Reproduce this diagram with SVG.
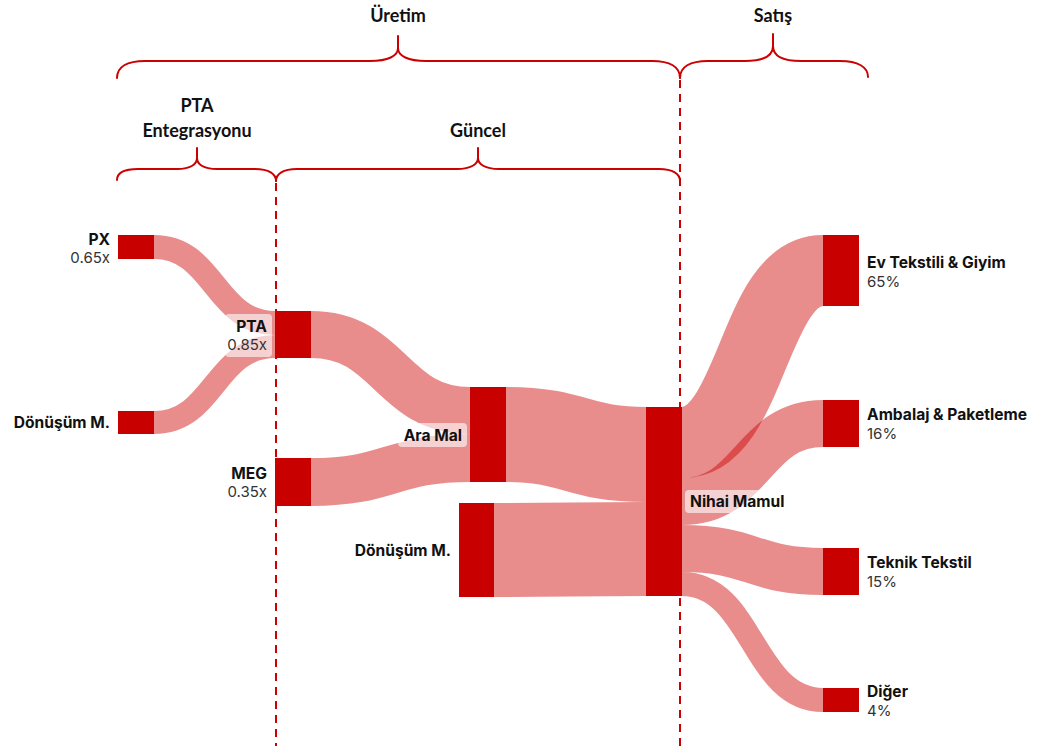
<svg xmlns="http://www.w3.org/2000/svg" width="1050" height="746" viewBox="0 0 1050 746">
<style>
.title{font-family:Lato,"Liberation Sans",sans-serif;font-weight:700;font-size:18px;fill:#111;text-anchor:middle}
.brace{fill:none;stroke:#cc0000;stroke-width:2;stroke-linecap:round;stroke-linejoin:round}
.guide{fill:none;stroke:#cc0000;stroke-width:2;stroke-dasharray:8 6}
.link{fill:none;stroke:#cc0000;stroke-opacity:0.45}
.node{fill:#c80000}
.lbl{font-family:Inter,"Liberation Sans",sans-serif;font-size:15.6px;font-weight:700;fill:#111}
.num{font-family:Inter,"Liberation Sans",sans-serif;font-size:15px;font-weight:400;fill:#333}
.bg{fill:#ffffff;fill-opacity:0.6}
.r{text-anchor:end}
</style>
<g id="headers">
<text class="title" x="398" y="22">Üretim</text>
<text class="title" x="773" y="22">Satış</text>
<text class="title" x="197" y="112">PTA</text>
<text class="title" x="197" y="137">Entegrasyonu</text>
<text class="title" x="478" y="137">Güncel</text>
<path class="brace" d="M117,78 C117,67 127,61 145,61 L370,61 C388,61 398,56 398,48 L398,36 M398,48 C398,56 408,61 426,61 L652,61 C670,61 680,67 680,78"/>
<path class="brace" d="M680,78 C680,67 690,61 708,61 L745,61 C763,61 773,56 773,46 L773,34 M773,46 C773,56 783,61 801,61 L840,61 C858,61 868,67 868,77"/>
<path class="brace" d="M117,180 C117,173 124,169 138,169 L177,169 C191,169 197,164 197,158 L197,148 M197,158 C197,164 203,169 217,169 L255,169 C269,169 276,174 276,181"/>
<path class="brace" d="M276,181 C276,174 283,169 297,169 L457,169 C471,169 478,164 478,158 L478,148 M478,158 C478,164 485,169 499,169 L659,169 C673,169 680,174 680,181"/>
</g>
<g id="connectors">
<path class="link" stroke-width="24" d="M154,247 C214.5,247 214.5,323 275,323"/>
<path class="link" stroke-width="23" d="M154,422.5 C214.5,422.5 214.5,346.5 275,346.5"/>
<path class="link" stroke-width="47" d="M311,334.5 C390.5,334.5 390.5,410.5 470,410.5"/>
<path class="link" stroke-width="48" d="M311,482 C390.5,482 390.5,458 470,458"/>
<path class="link" stroke-width="95" d="M506,434.5 C576,434.5 576,454.5 646,454.5"/>
<path class="link" stroke-width="94" d="M494,550 C570,550 570,549 646,549"/>
<path class="link" stroke-width="71" d="M682,442.5 C752.5,442.5 752.5,270.5 823,270.5"/>
<path class="link" stroke-width="47" d="M682,501.5 C752.5,501.5 752.5,423.5 823,423.5"/>
<path class="link" stroke-width="47" d="M682,548.5 C752.5,548.5 752.5,571.5 823,571.5"/>
<path class="link" stroke-width="24" d="M682,584 C752.5,584 752.5,700 823,700"/>
</g>
<g id="guides">
<line class="guide" x1="276" y1="183" x2="276" y2="746"/>
<line class="guide" x1="680" y1="80" x2="680" y2="746"/>
</g>
<g id="node-px">
<rect class="node" x="118" y="235" width="36" height="24"/>
<text class="lbl r" x="110" y="245">PX</text>
<text class="num r" x="110" y="263">0.65x</text>
</g>
<g id="node-donusum-1">
<rect class="node" x="118" y="411" width="36" height="23"/>
<text class="lbl r" x="110" y="428">Dönüşüm M.</text>
</g>
<g id="node-pta">
<rect class="node" x="275" y="311" width="36" height="47"/>
<rect class="bg" x="225" y="314" width="47" height="43" rx="4"/>
<text class="lbl r" x="267" y="332">PTA</text>
<text class="num r" x="267" y="350">0.85x</text>
</g>
<g id="node-meg">
<rect class="node" x="275" y="458" width="36" height="48"/>
<text class="lbl r" x="267" y="479">MEG</text>
<text class="num r" x="267" y="497">0.35x</text>
</g>
<g id="node-aramal">
<rect class="node" x="470" y="387" width="36" height="95"/>
<rect class="bg" x="398" y="423" width="69" height="24" rx="4"/>
<text class="lbl r" x="462" y="441">Ara Mal</text>
</g>
<g id="node-donusum-2">
<rect class="node" x="459" y="503" width="35" height="94"/>
<text class="lbl r" x="451" y="556">Dönüşüm M.</text>
</g>
<g id="node-nihai">
<rect class="node" x="646" y="407" width="36" height="189"/>
<rect class="bg" x="685" y="490" width="104" height="23" rx="4"/>
<text class="lbl" x="690" y="507">Nihai Mamul</text>
</g>
<g id="node-ev">
<rect class="node" x="823" y="235" width="36" height="71"/>
<text class="lbl" x="867" y="268">Ev Tekstili &amp; Giyim</text>
<text class="num" x="867" y="287">65%</text>
</g>
<g id="node-ambalaj">
<rect class="node" x="823" y="400" width="36" height="47"/>
<text class="lbl" x="867" y="420">Ambalaj &amp; Paketleme</text>
<text class="num" x="867" y="439">16%</text>
</g>
<g id="node-teknik">
<rect class="node" x="823" y="548" width="36" height="47"/>
<text class="lbl" x="867" y="568">Teknik Tekstil</text>
<text class="num" x="867" y="587">15%</text>
</g>
<g id="node-diger">
<rect class="node" x="823" y="688" width="36" height="24"/>
<text class="lbl" x="867" y="697">Diğer</text>
<text class="num" x="867" y="716">4%</text>
</g>
</svg>
